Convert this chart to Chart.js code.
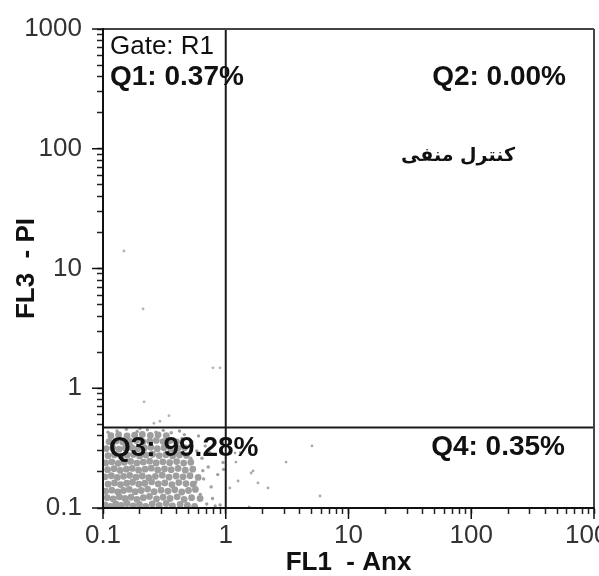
<!DOCTYPE html>
<html>
<head>
<meta charset="utf-8">
<script src="https://cdn.jsdelivr.net/npm/chart.js@4.4.1/dist/chart.umd.min.js"></script>
<style>
  html, body { margin: 0; padding: 0; background: #fff; overflow: hidden; }
  canvas { display: block; }
</style>
</head>
<body>
<canvas id="dotplot" width="599" height="576"></canvas>
<script>
// Decade marks shared by both log axes
const decadeTicks = [0.1, 1, 10, 100, 1000];
const decadeLabels = ['0.1', '1', '10', '100', '1000'];

// Quadrant gate thresholds
const anxGate = 1;
const piGate = 0.47;

// Quadrant statistics
const quadrantNames = ['Q1', 'Q2', 'Q3', 'Q4'];
const quadrantPct = ['0.37', '0.00', '99.28', '0.35'];
const gateName = 'R1';
const sampleTitle = 'کنترل منفی';
const xTitle = 'FL1  - Anx';
const yTitle = 'FL3  - PI';

// Events, [Annexin (FL1), PI (FL3)]
const q3Core = [
  [0.104,0.106],[0.115,0.103],[0.127,0.108],[0.141,0.105],[0.157,0.109],[0.176,0.104],[0.198,0.107],[0.223,0.103],[0.252,0.108],[0.287,0.105],[0.327,0.109],[0.368,0.104],[0.425,0.107],[0.487,0.105],[0.558,0.103],
  [0.108,0.122],[0.121,0.119],[0.136,0.124],[0.151,0.120],[0.169,0.123],[0.189,0.118],[0.213,0.122],[0.239,0.125],[0.273,0.119],[0.309,0.123],[0.352,0.120],[0.402,0.124],[0.458,0.118],[0.527,0.122],[0.618,0.120],
  [0.105,0.138],[0.118,0.141],[0.132,0.136],[0.147,0.140],[0.164,0.143],[0.183,0.137],[0.205,0.140],[0.231,0.144],[0.261,0.137],[0.297,0.141],[0.338,0.138],[0.384,0.142],[0.438,0.136],[0.497,0.140],[0.566,0.143],
  [0.110,0.158],[0.124,0.162],[0.139,0.157],[0.156,0.161],[0.174,0.164],[0.196,0.158],[0.219,0.161],[0.249,0.165],[0.282,0.159],[0.319,0.162],[0.364,0.157],[0.414,0.163],[0.474,0.160],[0.543,0.158],
  [0.104,0.182],[0.117,0.186],[0.131,0.180],[0.147,0.184],[0.165,0.187],[0.186,0.181],[0.209,0.185],[0.236,0.179],[0.267,0.184],[0.304,0.188],[0.345,0.181],[0.394,0.185],[0.449,0.182],[0.512,0.186],[0.596,0.180],
  [0.109,0.209],[0.123,0.213],[0.138,0.206],[0.155,0.211],[0.173,0.214],[0.195,0.207],[0.220,0.211],[0.247,0.215],[0.279,0.208],[0.317,0.212],[0.359,0.209],[0.409,0.214],[0.468,0.207],[0.538,0.211],
  [0.105,0.238],[0.118,0.243],[0.133,0.236],[0.149,0.241],[0.168,0.245],[0.189,0.237],[0.213,0.242],[0.240,0.246],[0.271,0.238],[0.307,0.243],[0.349,0.239],[0.398,0.244],[0.454,0.237],[0.519,0.241],
  [0.110,0.273],[0.124,0.278],[0.140,0.271],[0.157,0.276],[0.177,0.280],[0.199,0.272],[0.224,0.277],[0.253,0.281],[0.287,0.274],[0.325,0.278],[0.369,0.272],[0.419,0.277],[0.479,0.275],
  [0.106,0.313],[0.120,0.318],[0.135,0.310],[0.152,0.316],[0.171,0.320],[0.192,0.312],[0.217,0.317],[0.245,0.321],[0.277,0.313],[0.314,0.318],[0.357,0.311],[0.408,0.316],[0.462,0.319],
  [0.112,0.358],[0.128,0.363],[0.145,0.355],[0.165,0.361],[0.187,0.366],[0.212,0.357],[0.240,0.362],[0.272,0.367],[0.309,0.359],[0.350,0.364],[0.398,0.357],
  [0.116,0.402],[0.134,0.409],[0.157,0.400],[0.181,0.406],[0.209,0.411],[0.243,0.403],[0.281,0.408],[0.328,0.401]
];
const q3Fringe = [
  [0.62,0.13],[0.66,0.175],[0.70,0.108],[0.64,0.26],[0.72,0.22],[0.76,0.15],[0.82,0.104],[0.58,0.30],[0.68,0.33],[0.74,0.29],
  [0.86,0.19],[0.90,0.106],[0.95,0.24],[0.96,0.21],[0.53,0.36],[0.60,0.40],[0.46,0.41],[0.78,0.12],
  [0.13,0.44],[0.155,0.455],[0.19,0.435],[0.23,0.45],[0.27,0.43],[0.31,0.445],[0.36,0.425],[0.42,0.44],[0.20,0.462],[0.11,0.43],
  [0.52,0.26],[0.55,0.215],[0.50,0.33],[0.57,0.165],[0.65,0.205],[0.44,0.38]
];
const q1Events = [
  [0.148,14.0],[0.212,4.6],[0.787,1.48],[0.897,1.48],[0.216,0.77],[0.345,0.59],[0.291,0.53],[0.260,0.51]
];
const q4Events = [
  [1.21,0.242],[1.19,0.288],[1.31,0.29],[1.61,0.196],[1.67,0.204],[1.26,0.168],[1.08,0.147],
  [1.83,0.162],[2.21,0.147],[3.10,0.242],[5.04,0.33],[5.86,0.126],[1.55,0.102]
];

const toPoints = list => list.map(([x, y]) => ({ x, y }));

// Log ticks: 1..9 within every decade
const tickValues = [];
decadeTicks.forEach(d => {
  for (let m = 1; m <= 9; m++) {
    const v = +(d * m).toPrecision(3);
    if (v <= decadeTicks[decadeTicks.length - 1]) tickValues.push(v);
  }
});
const labelFor = v => {
  const i = decadeTicks.findIndex(d => Math.abs(d - v) / d < 1e-6);
  return i >= 0 ? decadeLabels[i] : '';
};

const SANS = '"Liberation Sans", Arial, Helvetica, sans-serif';

const axisCommon = (title, isX) => ({
  type: 'logarithmic',
  min: decadeTicks[0],
  max: decadeTicks[decadeTicks.length - 1],
  afterBuildTicks: scale => { scale.ticks = tickValues.map(v => ({ value: v })); },
  afterFit: scale => {
    if (isX) scale.height = 68; else scale.width = 103;
    scale.paddingLeft = 0; scale.paddingRight = 0;
    scale.paddingTop = 0; scale.paddingBottom = 0;
  },
  grid: { drawOnChartArea: false, drawTicks: true, tickLength: 6, tickColor: '#222', tickWidth: 1.5 },
  border: { display: true, color: '#111', width: 2 },
  ticks: {
    autoSkip: false, maxRotation: 0, minRotation: 0,
    padding: isX ? 6 : 15,
    color: '#333',
    font: { family: SANS, size: 26, lineHeight: 1.2 },
    callback: v => labelFor(v)
  },
  title: {
    display: true, text: title, color: '#111',
    font: { family: SANS, size: 26, weight: 'bold', lineHeight: 1 },
    padding: isX ? { top: 0, bottom: 0 } : { top: 14, bottom: 0 }
  }
});

const frameAndText = {
  id: 'frameAndText',
  afterDatasetsDraw(chart) {
    const { ctx, chartArea: a, scales: { x, y } } = chart;
    const line = (x1, y1, x2, y2) => { ctx.beginPath(); ctx.moveTo(x1, y1); ctx.lineTo(x2, y2); ctx.stroke(); };
    ctx.save();
    // plot frame
    ctx.lineWidth = 2;
    ctx.strokeStyle = '#444';
    line(a.left, a.top, a.right, a.top);
    line(a.right, a.top, a.right, a.bottom);
    ctx.strokeStyle = '#111';
    line(a.left, a.top - 1, a.left, a.bottom + 1);
    line(a.left - 1, a.bottom, a.right, a.bottom);
    // longer marks at each decade
    ctx.lineWidth = 1.5;
    decadeTicks.forEach(v => {
      const px = x.getPixelForValue(v);
      line(px, a.bottom, px, a.bottom + 11);
      const py = y.getPixelForValue(v);
      line(a.left - 11, py, a.left, py);
    });
    // quadrant annotations
    const yGate = y.getPixelForValue(piGate);
    ctx.fillStyle = '#111';
    ctx.textBaseline = 'alphabetic';
    ctx.textAlign = 'left';
    ctx.font = '26px ' + SANS;
    ctx.fillText('Gate: ' + gateName, a.left + 7, a.top + 25);
    ctx.font = 'bold 28px ' + SANS;
    ctx.fillText(quadrantNames[0] + ': ' + quadrantPct[0] + '%', a.left + 7, a.top + 56);
    ctx.fillText(quadrantNames[2] + ': ' + quadrantPct[2] + '%', a.left + 6, yGate + 28);
    ctx.textAlign = 'right';
    ctx.fillText(quadrantNames[1] + ': ' + quadrantPct[1] + '%', a.right - 28, a.top + 56);
    ctx.fillText(quadrantNames[3] + ': ' + quadrantPct[3] + '%', a.right - 29, yGate + 27);
    // sample caption
    ctx.textAlign = 'center';
    ctx.font = 'bold 19px "DejaVu Sans", sans-serif';
    ctx.fillText(sampleTitle, a.right - 136, a.top + 132);
    ctx.restore();
  }
};

new Chart(document.getElementById('dotplot'), {
  type: 'scatter',
  data: {
    datasets: [
      {
        type: 'line', label: 'Anx gate',
        data: [{ x: anxGate, y: decadeTicks[0] }, { x: anxGate, y: decadeTicks[4] }],
        borderColor: '#1a1a1a', borderWidth: 2, pointRadius: 0, fill: false
      },
      {
        type: 'line', label: 'PI gate',
        data: [{ x: decadeTicks[0], y: piGate }, { x: decadeTicks[4], y: piGate }],
        borderColor: '#1a1a1a', borderWidth: 2, pointRadius: 0, fill: false
      },
      { label: 'Q1', data: toPoints(q1Events), pointRadius: 1.4, backgroundColor: '#b4b4b4', borderWidth: 0 },
      { label: 'Q4', data: toPoints(q4Events), pointRadius: 1.4, backgroundColor: '#a8a8a8', borderWidth: 0 },
      { label: 'Q3 fringe', data: toPoints(q3Fringe), pointRadius: 1.7, backgroundColor: '#a0a0a0', borderWidth: 0 },
      { label: 'Q3', data: toPoints(q3Core), pointRadius: 3.4, backgroundColor: '#9e9e9e', borderWidth: 0 }
    ]
  },
  options: {
    responsive: false,
    animation: false,
    layout: { padding: { top: 29, right: 5, bottom: 0, left: 0 } },
    plugins: { legend: { display: false }, tooltip: { enabled: false } },
    scales: {
      x: axisCommon(xTitle, true),
      y: axisCommon(yTitle, false)
    }
  },
  plugins: [frameAndText]
});
</script>
</body>
</html>
